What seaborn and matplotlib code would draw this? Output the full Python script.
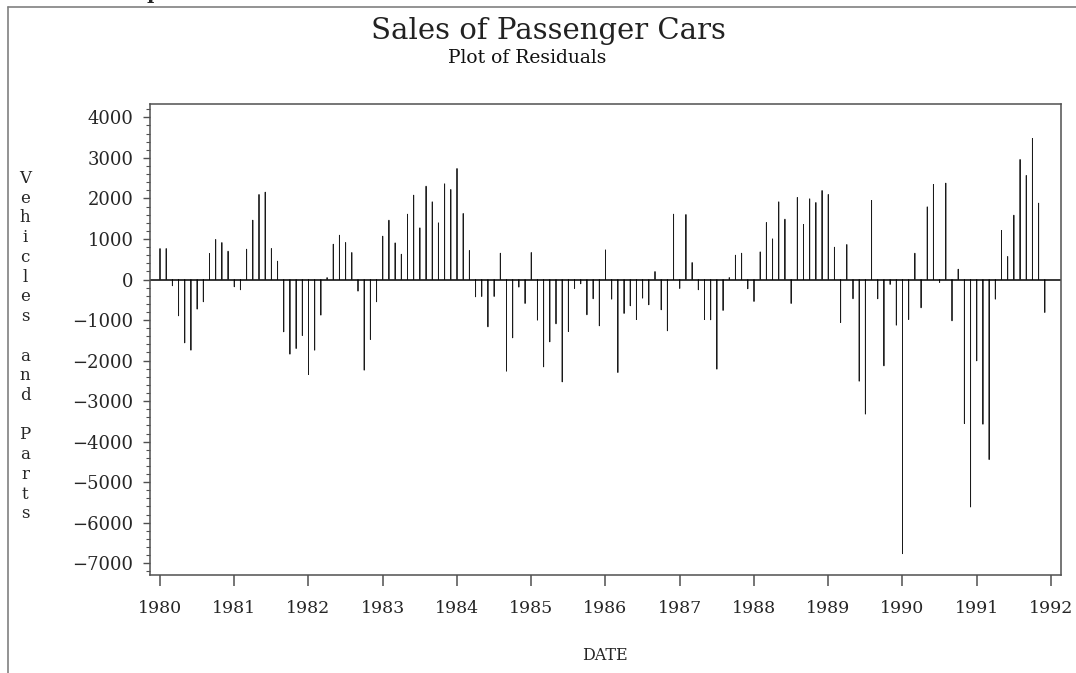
import numpy as np
import pandas as pd
import matplotlib
matplotlib.use("Agg")
import matplotlib.pyplot as plt
from matplotlib.lines import Line2D
from matplotlib.ticker import MultipleLocator
import seaborn as sns

# monthly residuals, 1980-01 .. 1991-12
res_1980 = [765, 765, -156, -897, -1564, -1745, -732, -551, 642, 988, 913, 700]
res_1981 = [-181, -255, 749, 1465, 2099, 2156, 765, 453, -1292, -1843, -1704, -1383]
res_1982 = [-2345, -1745, -880, 49, 872, 1094, 913, 667, -288, -2238, -1481, -551]
res_1983 = [1070, 1465, 905, 625, 1613, 2082, 1276, 2304, 1918, 1399, 2362, 2222]
res_1984 = [2740, 1630, 716, -428, -420, -1169, -420, 650, -2263, -1440, -189, -593]
res_1985 = [667, -1004, -2156, -1539, -1095, -2527, -1284, -222, -107, -872, -477, -1144]
res_1986 = [732, -486, -2296, -839, -650, -988, -461, -625, 198, -749, -1267, 1613]
res_1987 = [-222, 1605, 420, -255, -988, -996, -2213, -765, 49, 601, 650, -230]
res_1988 = [-543, 683, 1407, 1004, 1918, 1490, -593, 2025, 1358, 1992, 1901, 2197]
res_1989 = [2099, 798, -1062, 864, -477, -2510, -3321, 1951, -477, -2132, -123, -1128]
res_1990 = [-6765, -988, 650, -700, 1794, 2346, -74, 2379, -1021, 255, -3555, -5613]
res_1991 = [-2008, -3572, -4444, -486, 1210, 568, 1588, 2963, 2568, 3481, 1885, -815]

years = list(range(1980, 1993))
y_ticks = list(range(-7000, 5000, 1000))

residuals = (res_1980 + res_1981 + res_1982 + res_1983 + res_1984 + res_1985
             + res_1986 + res_1987 + res_1988 + res_1989 + res_1990 + res_1991)
df = pd.DataFrame({"date": 1980 + np.arange(len(residuals)) / 12,
                   "residual": residuals})

sns.set_style("white")
plt.rcParams["font.family"] = ["DejaVu Serif"]
GRAY = "#505050"

W, H = 1076, 673
fig = plt.figure(figsize=(W / 100, H / 100), dpi=100)
ax = fig.add_axes([150 / W, 1 - 575 / H, 911 / W, 471 / H])

# needles: near-zero-width bars drawn by their outline
sns.barplot(data=df, x="date", y="residual", native_scale=True, width=0.02,
            color="#1a1a1a", saturation=1, edgecolor="#1a1a1a", linewidth=0.6,
            errorbar=None, ax=ax)
for p in ax.patches:
    p.set_snap(False)
ax.axhline(0, color="black", lw=1.1)

ax.set_xlim(1980 - 10 / 74.25, 1992 + 10 / 74.25)
ax.set_ylim(-7290, 4330)
ax.set_xticks(years)
ax.set_xticklabels([str(y) for y in years])
ax.set_yticks(y_ticks)
ax.yaxis.set_minor_locator(MultipleLocator(200))

for s in ax.spines.values():
    s.set_visible(True)
    s.set_color(GRAY)
    s.set_linewidth(1.1)
ax.tick_params(axis="x", which="major", direction="out", length=8, width=1.1,
               color=GRAY, pad=10, labelsize=12.5, bottom=True)
ax.tick_params(axis="y", which="major", direction="out", length=5, width=1.0,
               color=GRAY, pad=7, labelsize=13, left=True)
ax.tick_params(axis="y", which="minor", direction="out", length=3, width=0.8,
               color=GRAY, left=True)
ax.set_xlabel("")
ax.set_ylabel("")

fig.text(548 / W, 1 - 31 / H, "Sales of Passenger Cars", ha="center",
         va="center", fontsize=21, color="#222222")
fig.text(527 / W, 1 - 58 / H, "Plot of Residuals", ha="center",
         va="center", fontsize=13.5, color="#111111")
fig.text(605 / W, 1 - 655 / H, "DATE", ha="center", va="center", fontsize=11.5)
fig.text(25 / W, 1 - 170 / H, "\n".join("Vehicles and Parts"), ha="center",
         va="top", fontsize=12, linespacing=1.21)

# outer frame and the clipped glyph at the top edge
fig.add_artist(Line2D([8 / W, 8 / W], [0, 1 - 7 / H], color="#808080", lw=1.2))
fig.add_artist(Line2D([8 / W, 1], [1 - 7 / H, 1 - 7 / H], color="#808080", lw=1.2))
fig.text(153 / W, 1 + 1 / H, "p", ha="center", va="baseline", fontsize=14,
         fontweight="bold")

fig.savefig("out.png", dpi=100)
